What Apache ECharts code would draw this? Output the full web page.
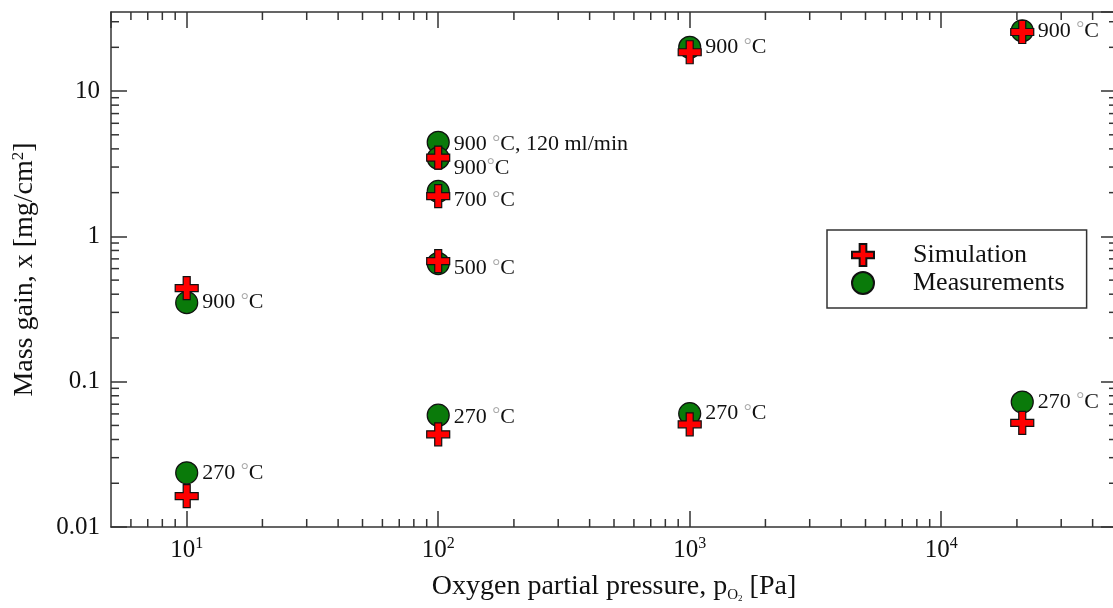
<!DOCTYPE html>
<html>
<head>
<meta charset="utf-8">
<script src="https://cdn.jsdelivr.net/npm/echarts@6/dist/echarts.min.js"></script>
<style>
html,body{margin:0;padding:0;background:#fff;}
#chart{width:1113px;height:608px;}
</style>
</head>
<body>
<div id="chart"></div>
<script>
// ---- data ----
const simX = [10, 10, 100, 100, 100, 100, 1000, 1000, 21000, 21000];
const simY = [0.44, 0.0163, 3.48, 1.89, 0.676, 0.0434, 18.5, 0.0509, 25.5, 0.052];
const measX = [10, 10, 100, 100, 100, 100, 100, 1000, 1000, 21000, 21000];
const measY = [0.35, 0.0236, 4.44, 3.45, 2.04, 0.65, 0.0588, 20.0, 0.0603, 26.0, 0.0724];
const measLabels = ['900 °C', '270 °C', '900 °C, 120 ml/min', '900°C', '700 °C', '500 °C', '270 °C', '900 °C', '270 °C', '900 °C', '270 °C'];
const seriesNames = ['Simulation', 'Measurements'];
const xMinorTicks = [6, 7, 8, 9, 20, 30, 40, 50, 60, 70, 80, 90, 200, 300, 400, 500, 600, 700, 800, 900,
  2000, 3000, 4000, 5000, 6000, 7000, 8000, 9000, 20000, 30000, 40000];
const yMinorTicks = [0.02, 0.03, 0.04, 0.05, 0.06, 0.07, 0.08, 0.09, 0.2, 0.3, 0.4, 0.5, 0.6, 0.7, 0.8, 0.9,
  2, 3, 4, 5, 6, 7, 8, 9, 20, 30];

// label vertical nudges (style only)
const labelDy = [0, 0, 2, 10, 9, 5, 2, 0, 0, 0, 0];

const FONT = '"Liberation Serif", "Times New Roman", serif';
const AX = '#333';
const crossPath = 'path://M8,0 H15 V8 H23 V15 H15 V23 H8 V15 H0 V8 H8 Z';

function degRich(s) { return s.replace('°', '{d|°}'); }

const chart = echarts.init(document.getElementById('chart'), null, { renderer: 'canvas' });

const xMin = 5, xMax = 50000, yMin = 0.01, yMax = 35;

const majorTick = { show: true, inside: true, length: 16, lineStyle: { color: AX, width: 1.5 } };
const axLine = { show: true, onZero: false, lineStyle: { color: AX, width: 1.5 } };

const option = {
  animation: false,
  backgroundColor: '#fff',
  grid: { left: 111, top: 12, width: 1006, height: 515, containLabel: false, outerBoundsMode: 'none' },
  legend: {
    data: [{ name: 'Simulation', icon: crossPath }, { name: 'Measurements', icon: 'circle' }],
    orient: 'vertical',
    left: 827, top: 230,
    padding: [11, 22, 11, 24],
    itemGap: 0,
    itemWidth: 22, itemHeight: 22,
    borderColor: AX, borderWidth: 1.5,
    backgroundColor: '#fff',
    textStyle: { fontFamily: FONT, fontSize: 26, color: '#111', lineHeight: 28, padding: [0, 0, 0, 34] }
  },
  xAxis: [{
    type: 'log', logBase: 10, min: xMin, max: xMax, position: 'bottom',
    axisLine: axLine, axisTick: majorTick, splitLine: { show: false },
    axisLabel: {
      margin: 9, showMinLabel: false, showMaxLabel: false,
      formatter: v => '{b|10}{s|' + Math.round(Math.log10(v)) + '}',
      rich: {
        b: { fontFamily: FONT, fontSize: 25, color: '#111', lineHeight: 28 },
        s: { fontFamily: FONT, fontSize: 16, color: '#111', lineHeight: 16, verticalAlign: 'top' }
      }
    },
    name: '{n|Oxygen partial pressure, p}{sub|O}{sub2|2}{n| [Pa]}',
    nameLocation: 'middle', nameGap: 44,
    nameTextStyle: {
      rich: {
        n: { fontFamily: FONT, fontSize: 28, color: '#111', lineHeight: 32 },
        sub: { fontFamily: FONT, fontSize: 15, color: '#111', lineHeight: 32, verticalAlign: 'bottom' },
        sub2: { fontFamily: FONT, fontSize: 9, color: '#111', lineHeight: 28, verticalAlign: 'bottom' }
      }
    }
  }, {
    type: 'log', logBase: 10, min: xMin, max: xMax, position: 'top',
    axisLine: axLine, axisTick: majorTick, axisLabel: { show: false }, splitLine: { show: false }
  }],
  yAxis: [{
    type: 'log', logBase: 10, min: yMin, max: yMax, position: 'left',
    axisLine: axLine, axisTick: majorTick, splitLine: { show: false },
    axisLabel: {
      margin: 11, showMaxLabel: false,
      fontFamily: FONT, fontSize: 25, color: '#111',
      formatter: v => { const e = Math.round(Math.log10(v)); return e >= 0 ? String(Math.pow(10, e)) : Math.pow(10, e).toFixed(-e); }
    },
    name: '{n|Mass gain, x [mg/cm}{s|2}{n|]}',
    nameLocation: 'middle', nameGap: 71, nameRotate: 90,
    nameTextStyle: {
      rich: {
        n: { fontFamily: FONT, fontSize: 28, color: '#111', lineHeight: 30 },
        s: { fontFamily: FONT, fontSize: 17, color: '#111', lineHeight: 17, verticalAlign: 'top' }
      }
    }
  }, {
    type: 'log', logBase: 10, min: yMin, max: yMax, position: 'right',
    axisLine: axLine, axisTick: majorTick, axisLabel: { show: false }, splitLine: { show: false }
  }],
  series: [
    {
      type: 'custom', name: 'xminor', silent: true, z: 1,
      xAxisIndex: 0, yAxisIndex: 0,
      data: xMinorTicks.map(v => [v, 1]),
      renderItem: (params, api) => {
        const cs = params.coordSys;
        const px = api.coord([api.value(0), api.value(1)])[0];
        const st = { stroke: AX, lineWidth: 1.5 };
        return { type: 'group', children: [
          { type: 'line', shape: { x1: px, y1: cs.y + cs.height, x2: px, y2: cs.y + cs.height - 8 }, style: st },
          { type: 'line', shape: { x1: px, y1: cs.y, x2: px, y2: cs.y + 8 }, style: st }
        ] };
      }
    },
    {
      type: 'custom', name: 'yminor', silent: true, z: 1,
      xAxisIndex: 0, yAxisIndex: 0,
      data: yMinorTicks.map(v => [10, v]),
      renderItem: (params, api) => {
        const cs = params.coordSys;
        const py = api.coord([api.value(0), api.value(1)])[1];
        const st = { stroke: AX, lineWidth: 1.5 };
        return { type: 'group', children: [
          { type: 'line', shape: { x1: cs.x, y1: py, x2: cs.x + 8, y2: py }, style: st },
          { type: 'line', shape: { x1: cs.x + cs.width, y1: py, x2: cs.x + cs.width - 8, y2: py }, style: st }
        ] };
      }
    },
    {
      type: 'scatter', name: seriesNames[1], z: 3,
      symbol: 'circle', symbolSize: 22,
      itemStyle: { color: '#0a7a0a', borderColor: '#111', borderWidth: 1.2, opacity: 1 },
      data: measX.map((x, i) => ({
        value: [x, measY[i]],
        label: {
          show: true, position: 'right', distance: 4, offset: [0, labelDy[i]],
          formatter: degRich(measLabels[i]),
          fontFamily: FONT, fontSize: 22, color: '#111',
          rich: {
            d: { fontFamily: FONT, fontSize: 20, color: '#aaa', verticalAlign: 'top', lineHeight: 22 }
          }
        }
      })),
      emphasis: { disabled: true }
    },
    {
      type: 'scatter', name: seriesNames[0], z: 4,
      symbol: crossPath, symbolSize: 23,
      itemStyle: { color: '#ff0000', borderColor: '#111', borderWidth: 1.2, opacity: 1 },
      data: simX.map((x, i) => [x, simY[i]]),
      emphasis: { disabled: true }
    }
  ]
};
chart.setOption(option);
</script>
</body>
</html>
